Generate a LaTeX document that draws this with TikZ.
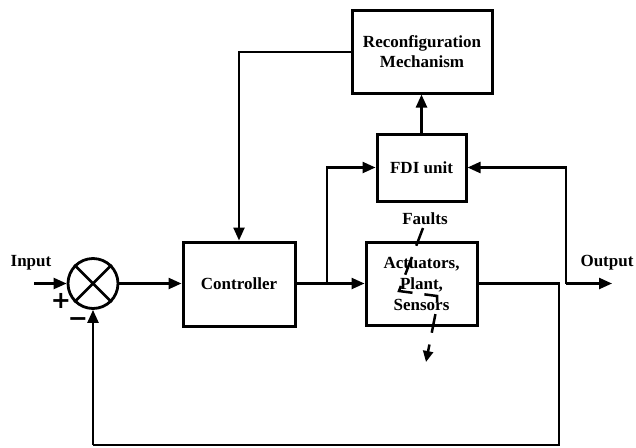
\documentclass[tikz,border=0pt]{standalone}
\usepackage{fontspec}
\setmainfont{Liberation Serif}
\newfontfamily\symfont{DejaVu Sans}
\usetikzlibrary{arrows.meta}
\begin{document}
\begin{tikzpicture}[x=1pt,y=-1pt,
  blk/.style={draw,line width=3pt,rectangle,inner sep=0pt,align=center,
    font=\fontsize{17}{20.5}\selectfont\bfseries},
  conn/.style={line width=2.4pt},
  arr/.style={conn,-{Triangle[length=13pt,width=11pt]}},
  lbl/.style={font=\fontsize{17}{20}\selectfont\bfseries,inner sep=0pt},
  sgn/.style={font=\symfont\fontsize{24}{24}\selectfont\bfseries,inner sep=0pt}]
\useasboundingbox (0,0) rectangle (636,447);
% blocks
\node[blk,minimum width=112pt,minimum height=84pt] (ctrl) at (239,284) {Controller};
\node[blk,minimum width=111pt,minimum height=83pt,font=\fontsize{17}{21}\selectfont\bfseries] (plant) at (421.5,283.5) {Actuators,\\Plant,\\Sensors};
\node[blk,minimum width=89pt,minimum height=67pt] (fdi) at (421.5,167.5) {FDI unit};
\node[blk,minimum width=140pt,minimum height=83pt] (reconf) at (422,51.5) {Reconfiguration\\Mechanism};
% summing junction
\node[draw,circle,line width=2.8pt,minimum size=50pt,inner sep=0pt] (sum) at (93,283.5) {};
\draw[line width=2.6pt] (sum.45) -- (sum.225) (sum.135) -- (sum.315);
% labels
\node[lbl] (inl) at (31,263) {Input};
\node[lbl] (outl) at (607,263) {Output};
\node[lbl] (fl) at (425,219) {Faults};
\node[sgn] (plus) at (61,301) {+};
\node[sgn] (minus) at (78,322) {−};
% coordinates
\coordinate (in) at (34,283.5);
\coordinate (br) at (327,283.5);
\coordinate (rc) at (239,52);
\coordinate (o1) at (566,283.5);
\coordinate (out) at (612,283.5);
\coordinate (fb1) at (559,283.5);
\coordinate (fb2) at (559,445);
\coordinate (fb3) at (93,445);
% connectors
\draw[arr] (in) -- (sum.west);
\draw[arr] (sum.east) -- (ctrl.west |- sum.east);
\draw[arr] (ctrl.east |- br) -- (plant.west |- br);
\draw[arr] (br) |- (fdi.west);
\draw[arr] (fdi.north) -- (fdi.north |- reconf.south);
\draw[arr] (reconf.west |- rc) -- (rc) -- (ctrl.north);
\draw[arr] (o1) |- (fdi.east);
\draw[arr] (o1) -- (out);
\draw[conn] (plant.east |- fb1) -- (fb1) -- (fb2) -- (fb3);
\draw[arr] (fb3) -- (sum.south);
% fault lightning
\draw[line width=2.5pt,dash pattern=on 19pt off 12pt,-{Triangle[length=11pt,width=10pt]}]
  (423,228) -- (399,291) -- (437,296) -- (437,306) -- (426,362);
\end{tikzpicture}
\end{document}
